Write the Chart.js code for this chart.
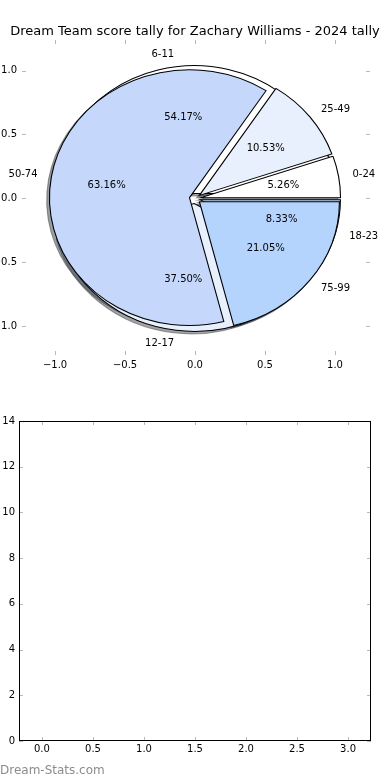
<!DOCTYPE html>
<html><head><meta charset="utf-8">
<script src="https://cdn.jsdelivr.net/npm/chart.js@4/dist/chart.umd.min.js"></script>
<style>
html,body{margin:0;padding:0;background:#fff;width:390px;height:780px;overflow:hidden}
canvas{position:absolute;left:0;top:0}
#axBottom{top:390px}
#wm{position:absolute;left:0;top:763px;font:12px "DejaVu Sans";line-height:14px;color:#8c8c8c;white-space:nowrap}
</style></head><body>
<canvas id="axTop" width="390" height="390"></canvas>
<canvas id="pieA" width="390" height="397"></canvas>
<canvas id="pieB" width="390" height="397"></canvas>
<canvas id="axBottom" width="390" height="390"></canvas>
<div id="wm">Dream-Stats.com</div>
<script>
// ---- data ----
const titleText = 'Dream Team score tally for Zachary Williams - 2024 tally';
const pieALabels = ['6-11', '12-17', '18-23'];
const pieAValues = [13, 9, 2];
const pieBLabels = ['0-24', '25-49', '50-74', '75-99'];
const pieBValues = [1, 2, 12, 4];
const sliceColors = ['#ffffff', '#e8effd', '#c5d8fc', '#b4d4fe'];
const topXTicks = [-1.0, -0.5, 0.0, 0.5, 1.0];
const topYTicks = [-1.0, -0.5, 0.0, 0.5, 1.0];
const bottomXTicks = [0, 0.5, 1, 1.5, 2, 2.5, 3];
const bottomYTicks = [0, 2, 4, 6, 8, 10, 12, 14];

// ---- style constants ----
const PIE_R = 127.8;
const SX = 140 / 127.8;
const EXPLODE = 0.04;
const SHADOW_DX = -0.02 * 140, SHADOW_DY = 0.02 * 127.8;

Chart.defaults.font.family = '"DejaVu Sans", sans-serif';
Chart.defaults.font.size = 10;
Chart.defaults.color = '#000';

function fmt1(v) { return (v < 0 ? '\u2212' : '') + Math.abs(v).toFixed(1); }

const inwardTicks = {
  id: 'inwardTicks',
  afterDraw(chart, args, opts) {
    const {ctx, chartArea: a} = chart;
    const L = 4;
    const xs = chart.scales.x, ys = chart.scales.y;
    ctx.save();
    ctx.strokeStyle = '#b8b8b8';
    ctx.lineWidth = 1;
    const line = (x1, y1, x2, y2) => { ctx.beginPath(); ctx.moveTo(x1, y1); ctx.lineTo(x2, y2); ctx.stroke(); };
    xs.ticks.forEach(t => {
      const p = Math.round(xs.getPixelForValue(t.value)) + 0.5;
      line(p, a.top, p, a.top + L); line(p, a.bottom, p, a.bottom - L);
    });
    ys.ticks.forEach(t => {
      const p = Math.round(ys.getPixelForValue(t.value)) + 0.5;
      line(a.left, p, a.left + L, p); line(a.right, p, a.right - L, p);
    });
    if (opts.frame) {
      ctx.strokeStyle = '#000';
      ctx.strokeRect(a.left + 0.5, a.top + 0.5, a.right - a.left - 1, a.bottom - a.top - 1);
    }
    ctx.restore();
  }
};

function spacerAxis(w) {
  return {type: 'linear', position: 'right', min: 0, max: 1, display: true,
    ticks: {display: false}, grid: {display: false, drawTicks: false}, border: {display: false},
    afterFit: s => { s.width = w; }};
}

new Chart(document.getElementById('axTop'), {
  type: 'scatter',
  data: {datasets: []},
  options: {
    responsive: false, animation: false, events: [],
    layout: {padding: 0},
    plugins: {
      legend: {display: false}, tooltip: {enabled: false},
      title: {display: true, text: titleText, color: '#000', font: {size: 13, weight: 'normal'}, padding: {top: 23.5, bottom: 0.9}},
      inwardTicks: {frame: false}
    },
    scales: {
      x: {type: 'linear', min: -1.236, max: 1.25,
        afterBuildTicks: s => { s.ticks = topXTicks.map(v => ({value: v})); },
        afterFit: s => { s.height = 35; },
        grid: {display: false, drawTicks: false}, border: {display: false},
        ticks: {padding: 4.5, color: '#000', callback: fmt1, maxRotation: 0, autoSkip: false}},
      y: {type: 'linear', min: -1.225, max: 1.239,
        afterBuildTicks: s => { s.ticks = topYTicks.map(v => ({value: v})); },
        afterFit: s => { s.width = 22; },
        grid: {display: false, drawTicks: false}, border: {display: false},
        ticks: {padding: 5, color: '#000', callback: fmt1, autoSkip: false}},
      yr: spacerAxis(20)
    }
  },
  plugins: [inwardTicks]
});

new Chart(document.getElementById('axBottom'), {
  type: 'scatter',
  data: {datasets: []},
  options: {
    responsive: false, animation: false, events: [],
    layout: {padding: {left: 0, right: 0, top: 31, bottom: 0}},
    plugins: {legend: {display: false}, tooltip: {enabled: false}, inwardTicks: {frame: true}},
    scales: {
      x: {type: 'linear', min: -0.225, max: 3.225,
        afterBuildTicks: s => { s.ticks = bottomXTicks.map(v => ({value: v})); },
        afterFit: s => { s.height = 39; },
        grid: {display: false, drawTicks: false}, border: {display: false},
        ticks: {padding: 2.4, color: '#000', callback: v => v.toFixed(1), maxRotation: 0, autoSkip: false}},
      y: {type: 'linear', min: 0, max: 14,
        afterBuildTicks: s => { s.ticks = bottomYTicks.map(v => ({value: v})); },
        afterFit: s => { s.width = 19; },
        grid: {display: false, drawTicks: false}, border: {display: false},
        ticks: {padding: 4, color: '#000', callback: v => String(v), autoSkip: false}},
      yr: spacerAxis(19)
    }
  },
  plugins: [inwardTicks]
});

// ---- pies ----
const pieCharts = [];

function sliceTransform(ctx, arc) {
  const mid = (arc.startAngle + arc.endAngle) / 2;
  const e = EXPLODE * arc.outerRadius;
  ctx.translate(arc.x, arc.y); ctx.scale(SX, 1); ctx.translate(-arc.x, -arc.y);
  ctx.translate(Math.cos(mid) * e, Math.sin(mid) * e);
}
function shade(hex) {
  const n = parseInt(hex.slice(1), 16);
  const r = (n >> 16) & 255, g = (n >> 8) & 255, b = n & 255;
  return 'rgba(' + Math.round(r * 0.3) + ',' + Math.round(g * 0.3) + ',' + Math.round(b * 0.3) + ',0.5)';
}
function drawShadows(ctx, chart) {
  const OFF = 3000;
  chart.getDatasetMeta(0).data.forEach(arc => {
    ctx.save();
    ctx.translate(OFF, 0);
    ctx.shadowOffsetX = -OFF + SHADOW_DX;
    ctx.shadowOffsetY = SHADOW_DY;
    ctx.shadowBlur = 0;
    ctx.shadowColor = shade(arc.options.backgroundColor);
    sliceTransform(ctx, arc);
    arc.draw(ctx);
    ctx.restore();
  });
}
function drawLabels(ctx, chart) {
  const ds = chart.data.datasets[0];
  const total = ds.data.reduce((a, b) => a + b, 0);
  ctx.save();
  ctx.fillStyle = '#000';
  ctx.font = '10px "DejaVu Sans"';
  ctx.textBaseline = 'middle';
  chart.getDatasetMeta(0).data.forEach((arc, i) => {
    const mid = (arc.startAngle + arc.endAngle) / 2, R = arc.outerRadius, e = EXPLODE * R;
    const c = Math.cos(mid), s = Math.sin(mid);
    const lx = arc.x + SX * c * (e + 1.1 * R), ly = arc.y + s * (e + 1.1 * R);
    ctx.textAlign = c > 0 ? 'left' : 'right';
    ctx.fillText(chart.data.labels[i], lx, ly);
    const px = arc.x + SX * c * (e + 0.6 * R), py = arc.y + s * (e + 0.6 * R);
    ctx.textAlign = 'center';
    ctx.fillText((ds.data[i] / total * 100).toFixed(2) + '%', px, py);
  });
  ctx.restore();
}
const piePlugin = {
  id: 'piePlugin',
  beforeDatasetsDraw(chart, args, opts) {
    const ctx = chart.ctx;
    if (opts.role === 'under') pieCharts.forEach(c => drawShadows(ctx, c));
    chart.getDatasetMeta(0).data.forEach(arc => {
      ctx.save(); sliceTransform(ctx, arc); arc.draw(ctx); ctx.restore();
    });
    return false;
  },
  afterDraw(chart, args, opts) {
    if (opts.role === 'over') pieCharts.forEach(c => drawLabels(chart.ctx, c));
  }
};
function pieConfig(labels, values, role) {
  const colors = labels.map((_, i) => sliceColors[i % sliceColors.length]);
  return {
    type: 'pie',
    data: {
      labels: labels.slice().reverse(),
      datasets: [{data: values.slice().reverse(), backgroundColor: colors.slice().reverse(),
        borderColor: '#000', borderWidth: 1, hoverOffset: 0, offset: 0, borderJoinStyle: 'miter'}]
    },
    options: {
      responsive: false, animation: false, events: [],
      radius: PIE_R, rotation: 90,
      layout: {padding: 0},
      plugins: {legend: {display: false}, tooltip: {enabled: false}, title: {display: false}, piePlugin: {role}}
    },
    plugins: [piePlugin]
  };
}
const pieA = new Chart(document.getElementById('pieA'), pieConfig(pieALabels, pieAValues, 'under'));
const pieB = new Chart(document.getElementById('pieB'), pieConfig(pieBLabels, pieBValues, 'over'));
pieCharts.push(pieA, pieB);
pieA.draw();
pieB.draw();
</script>
</body></html>
